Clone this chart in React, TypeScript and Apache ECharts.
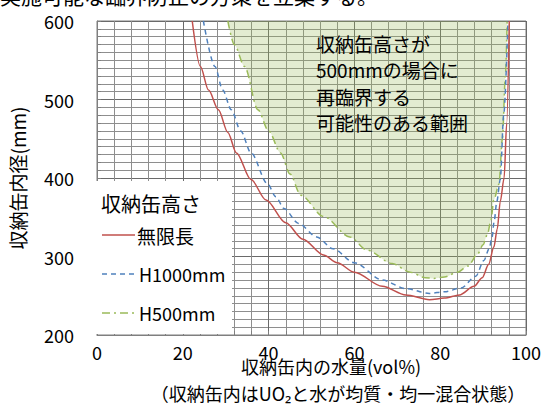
import React, { useEffect, useRef } from "react";
import * as echarts from "echarts";

const seriesNames = ["無限長", "H1000mm", "H500mm"];
const seriesColors = ["#c0504d", "#4f81bd", "#9bbb59"];

const infiniteData: number[][] = [
  [22.2, 600], [24.1, 542], [26, 512], [28.3, 487], [30.5, 458], [32.5, 432],
  [35.9, 398], [39.4, 372], [44, 343], [48, 322], [52.8, 302], [56, 292],
  [60, 280], [66.5, 262], [72, 251], [77.5, 245], [81, 247], [84.5, 251],
  [87.9, 262], [89.8, 273], [91.3, 290], [92.5, 312], [93.3, 335], [94, 370],
  [94.9, 400], [95.5, 470], [96.1, 600],
];

const h1000Data: number[][] = [
  [24.8, 600], [27.5, 542], [29.3, 512], [31.3, 487], [33.5, 460], [35.9, 432],
  [39.7, 393], [41.7, 376], [43.6, 361], [47, 342], [51.2, 325], [55, 310],
  [60, 292], [66.5, 270], [72, 259], [77.5, 253], [81, 255], [84.9, 260],
  [88.3, 275], [90.2, 295], [91.4, 310], [92.1, 325], [92.6, 346], [93.2, 370],
  [94, 398], [94.8, 480], [95.8, 600],
];

const h500Data: number[][] = [
  [30.5, 600], [32, 570], [34.4, 542], [37.5, 487], [40, 460], [42.8, 432],
  [45, 405], [47.5, 378], [52.8, 351], [58.9, 325], [63, 308], [68.8, 291],
  [73, 280], [76.5, 273], [78.5, 272], [81, 274], [84, 280], [86.5, 288],
  [88.7, 303], [90, 315], [91, 328], [91.8, 345], [92.5, 372], [93.7, 392],
  [94.5, 450], [95.2, 530], [95.6, 600],
];

const xTicks = { min: 0, max: 100, interval: 20 };
const yTicks = { min: 200, max: 600, interval: 100 };

const FONT = '"Noto Sans CJK JP", "Noto Sans", sans-serif';

const lineDashes: (number[] | null)[] = [null, [5, 4], [8, 4, 2, 4]];
const legendY = [235, 274, 313];

export default function App() {
  const ref = useRef<HTMLDivElement>(null);
  useEffect(() => {
    document.body.style.margin = "0";
    if (!ref.current) return;
    const chart = echarts.init(ref.current, null, { renderer: "svg" });
    const axisCommon = {
      axisLine: { show: true, lineStyle: { color: "#7f7f7f", width: 1 } },
      axisTick: { show: true, inside: true, length: 4, lineStyle: { color: "#7f7f7f" } },
      splitLine: { show: true, lineStyle: { color: "#6a6a6a", width: 1 } },
      minorSplitLine: { show: true, lineStyle: { color: "#8e8e8e", width: 1 } },
    };
    const legendGraphics: any[] = [];
    seriesNames.forEach((name, i) => {
      legendGraphics.push({
        type: "line",
        z: 10,
        shape: { x1: 102, y1: legendY[i], x2: 135, y2: legendY[i] },
        style: {
          stroke: seriesColors[i],
          lineWidth: 1.5,
          lineDash: lineDashes[i] || undefined,
        },
      });
      legendGraphics.push({
        type: "text",
        z: 10,
        x: i === 0 ? 137 : 139,
        y: legendY[i],
        style: {
          text: name, fontSize: i === 0 ? 19 : 18, fill: "#000", fontFamily: FONT,
          textVerticalAlign: "middle",
        },
      });
    });
    chart.setOption({
      animation: false,
      textStyle: { fontFamily: FONT },
      grid: {
        left: 90, right: 18, top: 21, bottom: 77,
        show: true, borderColor: "#7f7f7f", borderWidth: 1,
      },
      xAxis: {
        type: "value",
        ...xTicks,
        ...axisCommon,
        minorTick: { show: true, splitNumber: 5, length: 4, lineStyle: { color: "#7f7f7f" } },
        axisLabel: { fontSize: 18, color: "#000", margin: 8, fontFamily: FONT },
      },
      yAxis: {
        type: "value",
        ...yTicks,
        ...axisCommon,
        minorTick: { show: true, splitNumber: 10, length: 4, lineStyle: { color: "#7f7f7f" } },
        axisLabel: { fontSize: 18, color: "#000", margin: 23, fontFamily: FONT },
        name: "収納缶内径(mm)",
        nameLocation: "middle",
        nameGap: 70,
        nameTextStyle: { fontSize: 19, color: "#000", fontFamily: FONT },
      },
      graphic: [
        {
          type: "rect",
          z: 3,
          shape: { x: 91, y: 181, width: 141, height: 153 },
          style: { fill: "#ffffff" },
        },
        {
          type: "text",
          z: 10,
          x: 101,
          y: 203,
          style: {
            text: "収納缶高さ", fontSize: 20, fill: "#000", fontFamily: FONT,
            textVerticalAlign: "middle",
          },
        },
        ...legendGraphics,
        {
          type: "text",
          z: 10,
          x: 316,
          y: 30,
          style: {
            text: "収納缶高さが\n500mmの場合に\n再臨界する\n可能性のある範囲",
            fontSize: 19, lineHeight: 26.5, fill: "#000", fontFamily: FONT,
          },
        },
        {
          type: "text",
          z: 10,
          x: 331,
          y: 366,
          style: {
            text: "収納缶内の水量(vol%)", fontSize: 18, fill: "#000", fontFamily: FONT,
            textAlign: "center", textVerticalAlign: "middle",
          },
        },
        {
          type: "text",
          z: 10,
          x: 338,
          y: 393,
          style: {
            text: "（収納缶内はUO₂と水が均質・均一混合状態）", fontSize: 18, fill: "#000", fontFamily: FONT,
            textAlign: "center", textVerticalAlign: "middle",
          },
        },
        {
          type: "text",
          z: 10,
          x: 0,
          y: -5,
          style: {
            text: "実施可能な臨界防止の方策を立案する。", fontSize: 21, fill: "#000", fontFamily: FONT,
            textVerticalAlign: "middle",
          },
        },
      ],
      series: [
        {
          name: seriesNames[2],
          type: "line",
          data: h500Data,
          symbol: "none",
          smooth: 0.3,
          smoothMonotone: "x",
          z: 2,
          lineStyle: { color: seriesColors[2], width: 1.5, type: [8, 4, 2, 4] },
          itemStyle: { color: seriesColors[2] },
          areaStyle: { origin: "end", color: "rgba(155,187,89,0.4)" },
        },
        {
          name: seriesNames[1],
          type: "line",
          data: h1000Data,
          symbol: "none",
          smooth: 0.3,
          smoothMonotone: "x",
          z: 3,
          lineStyle: { color: seriesColors[1], width: 1.5, type: [5, 4] },
          itemStyle: { color: seriesColors[1] },
        },
        {
          name: seriesNames[0],
          type: "line",
          data: infiniteData,
          symbol: "none",
          smooth: 0.3,
          smoothMonotone: "x",
          z: 4,
          lineStyle: { color: seriesColors[0], width: 1.5 },
          itemStyle: { color: seriesColors[0] },
        },
      ],
    });
    return () => chart.dispose();
  }, []);
  return <div ref={ref} style={{ width: 544, height: 412 }} />;
}
